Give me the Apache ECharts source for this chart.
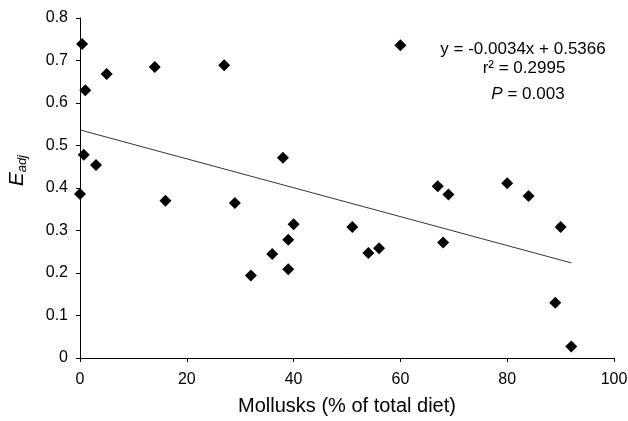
<!DOCTYPE html>
<html>
<head>
<meta charset="utf-8">
<script src="https://cdn.jsdelivr.net/npm/echarts@6/dist/echarts.min.js"></script>
<style>
html,body{margin:0;padding:0;background:#fff;}
#c{width:628px;height:421px;}
</style>
</head>
<body>
<div id="c"></div>
<script>
// Mollusks (% of total diet)
const molluskPct = [0.4, 1, 5, 14, 27, 0.7, 3, 38, 0, 60, 67, 69, 80, 84, 16, 29, 40, 39, 36, 39, 32, 51, 54, 56, 68, 90, 89, 92];
// E_adj values
const eAdj = [0.739, 0.630, 0.668, 0.685, 0.689, 0.478, 0.454, 0.471, 0.386, 0.736, 0.404, 0.385, 0.411, 0.381, 0.370, 0.365, 0.315, 0.278, 0.245, 0.209, 0.194, 0.308, 0.247, 0.258, 0.272, 0.308, 0.130, 0.027];
// regression
const slope = -0.0034;
const intercept = 0.5366;
const trendX = [0, 92];
const xTicks = [0, 20, 40, 60, 80, 100];
const yTicks = [0, 0.1, 0.2, 0.3, 0.4, 0.5, 0.6, 0.7, 0.8];

const points = molluskPct.map((x, i) => [x, eAdj[i]]);
const trend = trendX.map(x => [x, intercept + slope * x]);

const chart = echarts.init(document.getElementById('c'), null, {renderer: 'canvas'});
const font = 'Liberation Sans, Arial, sans-serif';
chart.setOption({
  animation: false,
  backgroundColor: '#fff',
  grid: {left: 80, right: 14, top: 18, bottom: 63, containLabel: false, outerBoundsMode: 'none'},
  xAxis: {
    type: 'value', min: 0, max: 100, interval: 20,
    axisLine: {show: true, lineStyle: {color: '#000', width: 1}},
    axisTick: {show: true, length: 4, lineStyle: {color: '#000'}},
    axisLabel: {color: '#000', fontSize: 16, fontFamily: font, margin: 14},
    splitLine: {show: false},
    name: 'Mollusks (% of total diet)', nameLocation: 'middle', nameGap: 38,
    nameTextStyle: {color: '#000', fontSize: 20, fontFamily: font}
  },
  yAxis: {
    type: 'value', min: 0, max: 0.8, interval: 0.1,
    axisLine: {show: true, lineStyle: {color: '#000', width: 1}},
    axisTick: {show: true, length: 4, lineStyle: {color: '#000'}},
    axisLabel: {color: '#000', fontSize: 16, fontFamily: font, margin: 12,
      formatter: v => (Math.round(v * 10) / 10).toString()},
    splitLine: {show: false}
  },
  graphic: [
    {
      type: 'text', left: 7, top: 155, rotation: Math.PI / 2,
      style: {
        text: '{e|E}{s|adj}',
        rich: {
          e: {fontSize: 21, fontStyle: 'italic', fontFamily: font, fill: '#000'},
          s: {fontSize: 13, fontStyle: 'italic', fontFamily: font, fill: '#000', padding: [9, 0, 0, 0]}
        }
      }
    },
    {
      type: 'text', x: 523, y: 41,
      style: {text: 'y = -0.0034x + 0.5366', fontSize: 17, fontFamily: font, fill: '#000',
        align: 'center', textAlign: 'center', verticalAlign: 'top', textVerticalAlign: 'top'}
    },
    {
      type: 'text', x: 524, y: 60,
      style: {text: 'r² = 0.2995', fontSize: 17, fontFamily: font, fill: '#000',
        align: 'center', textAlign: 'center', verticalAlign: 'top', textVerticalAlign: 'top'}
    },
    {
      type: 'text', x: 528, y: 86,
      style: {
        text: '{p|P} = 0.003',
        fontSize: 17, fontFamily: font, fill: '#000',
        align: 'center', textAlign: 'center', verticalAlign: 'top', textVerticalAlign: 'top',
        rich: {p: {fontSize: 17, fontStyle: 'italic', fontFamily: font, fill: '#000'}}
      }
    }
  ],
  series: [
    {
      type: 'line', data: trend, showSymbol: false, symbol: 'none',
      lineStyle: {color: '#000', width: 0.8}, silent: true, z: 1
    },
    {
      type: 'scatter', data: points, symbol: 'diamond', symbolSize: 12,
      itemStyle: {color: '#000', opacity: 1}, z: 2
    }
  ]
});
</script>
</body>
</html>
